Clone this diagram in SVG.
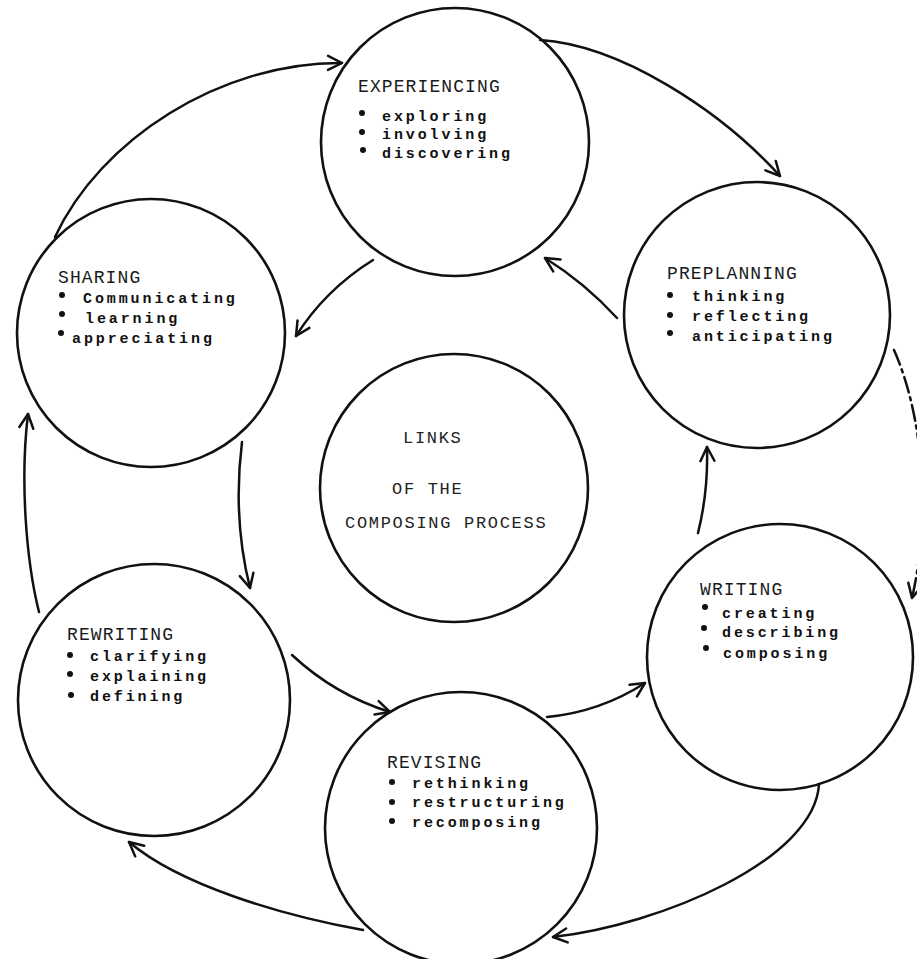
<svg xmlns="http://www.w3.org/2000/svg" width="917" height="959" viewBox="0 0 917 959">
<style>
.node{fill:none;stroke:#111;stroke-width:2.6}
.ttl{font-family:"Liberation Mono","DejaVu Sans Mono",monospace;font-size:18px;letter-spacing:1.1px;fill:#1a1a1a}
.itm{font-family:"Liberation Mono","DejaVu Sans Mono",monospace;font-size:15px;font-weight:bold;letter-spacing:2.9px;fill:#111}
.ctr{font-family:"Liberation Mono","DejaVu Sans Mono",monospace;font-size:17px;letter-spacing:1.7px;fill:#222}
.bul{fill:#111}
.conn path{fill:none;stroke:#111;stroke-width:2.5;stroke-linecap:round;marker-end:url(#ah)}
.dash{stroke-dasharray:16 5 3 5}
</style>
<defs>
<marker id="ah" viewBox="-17 -10 20 20" markerWidth="20" markerHeight="20" refX="0" refY="0" orient="auto" markerUnits="userSpaceOnUse">
<path d="M -14 -7 L 0 0 L -14 7" fill="none" stroke="#111" stroke-width="2.5" stroke-linecap="round" stroke-linejoin="round"/>
</marker>
</defs>
<rect width="917" height="959" fill="#fff"/>

<g id="experiencing">
<circle class="node" cx="455" cy="142" r="134"/>
<text class="ttl" x="358" y="92">EXPERIENCING</text>
<circle class="bul" cx="362" cy="113" r="3"/><text class="itm" x="382" y="121">exploring</text>
<circle class="bul" cx="362" cy="132" r="3"/><text class="itm" x="382" y="139">involving</text>
<circle class="bul" cx="363" cy="150" r="3"/><text class="itm" x="382" y="158">discovering</text>
</g>

<g id="preplanning">
<circle class="node" cx="757" cy="315" r="133"/>
<text class="ttl" x="667" y="279">PREPLANNING</text>
<circle class="bul" cx="670" cy="295" r="3"/><text class="itm" x="692" y="301">thinking</text>
<circle class="bul" cx="670" cy="315" r="3"/><text class="itm" x="692" y="321">reflecting</text>
<circle class="bul" cx="670" cy="333" r="3"/><text class="itm" x="692" y="341">anticipating</text>
</g>

<g id="sharing">
<circle class="node" cx="151" cy="333" r="134"/>
<text class="ttl" x="58" y="283">SHARING</text>
<circle class="bul" cx="62" cy="295" r="3"/><text class="itm" x="83" y="303">Communicating</text>
<circle class="bul" cx="62" cy="314" r="3"/><text class="itm" x="85" y="323">learning</text>
<circle class="bul" cx="61" cy="333" r="3"/><text class="itm" x="72" y="343">appreciating</text>
</g>

<g id="links">
<circle class="node" cx="454" cy="488" r="134"/>
<text class="ctr" x="403" y="443">LINKS</text>
<text class="ctr" x="392" y="494">OF THE</text>
<text class="ctr" x="345" y="528">COMPOSING PROCESS</text>
</g>

<g id="writing">
<circle class="node" cx="780" cy="657" r="133"/>
<text class="ttl" x="700" y="595">WRITING</text>
<circle class="bul" cx="705" cy="607" r="3"/><text class="itm" x="722" y="618">creating</text>
<circle class="bul" cx="704" cy="628" r="3"/><text class="itm" x="722" y="637">describing</text>
<circle class="bul" cx="706" cy="648" r="3"/><text class="itm" x="723" y="658">composing</text>
</g>

<g id="rewriting">
<circle class="node" cx="154" cy="700" r="136"/>
<text class="ttl" x="67" y="640">REWRITING</text>
<circle class="bul" cx="70" cy="655" r="3"/><text class="itm" x="90" y="661">clarifying</text>
<circle class="bul" cx="70" cy="674" r="3"/><text class="itm" x="90" y="681">explaining</text>
<circle class="bul" cx="71" cy="695" r="3"/><text class="itm" x="90" y="701">defining</text>
</g>

<g id="revising">
<circle class="node" cx="461" cy="828" r="136"/>
<text class="ttl" x="387" y="768">REVISING</text>
<circle class="bul" cx="392" cy="782" r="3"/><text class="itm" x="412" y="788">rethinking</text>
<circle class="bul" cx="392" cy="802" r="3"/><text class="itm" x="412" y="807">restructuring</text>
<circle class="bul" cx="392" cy="821" r="3"/><text class="itm" x="412" y="827">recomposing</text>
</g>

<g id="connectors" class="conn">
<path d="M 55 237 C 100 140 220 62 342 63"/>
<path d="M 540 40 C 620 45 720 110 780 176"/>
<path class="dash" d="M 894 350 C 925 420 930 520 912 598"/>
<path d="M 819 784 C 815 860 660 925 553 937"/>
<path d="M 363 930 C 280 915 180 885 129 842"/>
<path d="M 39 612 C 26 560 20 480 28 414"/>
<path d="M 373 260 Q 325 290 296 336"/>
<path d="M 242 442 C 236 490 238 540 250 588"/>
<path d="M 292 655 Q 335 695 390 712"/>
<path d="M 547 717 Q 600 712 645 683"/>
<path d="M 698 533 C 705 505 708 480 707 447"/>
<path d="M 617 318 Q 585 283 545 258"/>
</g>
</svg>
